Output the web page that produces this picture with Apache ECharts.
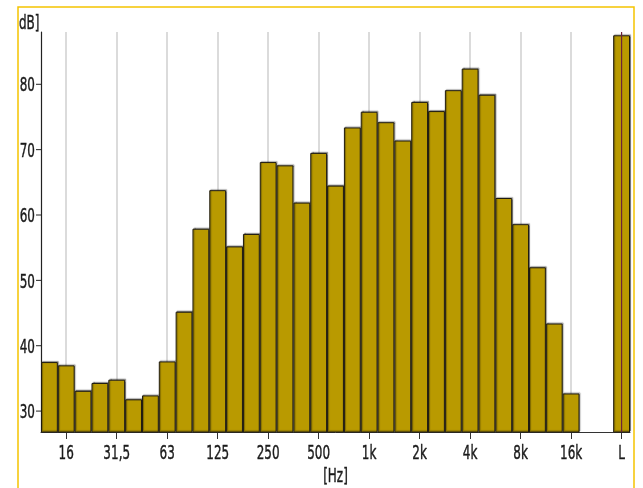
<!DOCTYPE html>
<html>
<head>
<meta charset="utf-8">
<script src="https://cdn.jsdelivr.net/npm/echarts@6/dist/echarts.min.js"></script>
<style>
html,body{margin:0;padding:0;background:#fff;}
#chart{width:643px;height:488px;}
</style>
</head>
<body>
<div id="chart"></div>
<script>
// Third-octave band centre frequencies (+ two empty slots + overall L)
var categories = ['12,5','16','20','25','31,5','40','50','63','80','100','125','160','200','250','315','400','500','630','800','1k','1,25k','1,6k','2k','2,5k','3,15k','4k','5k','6,3k','8k','10k','12,5k','16k','20k','25k','L'];
// Band levels in dB (null = empty slot)
var levels = [37.5,37.0,33.1,34.3,34.8,31.8,32.4,37.6,45.2,57.9,63.8,55.2,57.1,68.1,67.6,61.9,69.5,64.5,73.4,75.8,74.2,71.4,77.3,75.9,79.1,82.4,78.4,62.6,58.6,52.0,43.4,32.7,null,null,87.5];
// Labelled ticks on the frequency axis
var tickLabels = ['16','31,5','63','125','250','500','1k','2k','4k','8k','16k','L'];
// Labelled ticks on the level axis
var yTicks = [30,40,50,60,70,80];
var yMin = 26.8, yMax = 88;

var FONT = "'DejaVu Sans','Liberation Sans',sans-serif";
var FS = 20, SX = 0.6, TXT = '#1a1a1a';
var chart = echarts.init(document.getElementById('chart'), null, {renderer:'canvas'});
var showTick = function(idx){ return tickLabels.indexOf(categories[idx]) >= 0; };
var showGrid = function(idx){ return categories[idx] !== 'L' && tickLabels.indexOf(categories[idx]) >= 0; };

chart.setOption({
  animation:false,
  backgroundColor:'#ffffff',
  grid:{left:41, top:32, right:13, bottom:56, containLabel:false},
  xAxis:{
    type:'category',
    data:categories,
    boundaryGap:true,
    axisLine:{show:true, lineStyle:{color:'#333', width:1}},
    axisTick:{show:true, interval:showTick, alignWithLabel:true, length:7, lineStyle:{color:'#333', width:1}},
    axisLabel:{show:false},
    splitLine:{show:true, interval:showGrid, alignWithLabel:true, lineStyle:{color:'#cfcfcf', width:1.5}}
  },
  yAxis:{
    type:'value',
    min:yMin,
    max:yMax,
    splitNumber:6,
    axisLine:{show:true, lineStyle:{color:'#222', width:1.2}},
    axisTick:{show:false},
    axisLabel:{show:false},
    splitLine:{show:false}
  },
  series:[{
    type:'bar',
    data:levels,
    barCategoryGap:'0%',
    barGap:'0%',
    z:3,
    itemStyle:{
      color:'#b99a00',
      borderColor:'#1e1a10',
      borderWidth:1,
      shadowColor:'rgba(0,0,0,0.35)',
      shadowOffsetX:1,
      shadowOffsetY:-1,
      shadowBlur:1
    }
  }]
});

// Text labels and marks placed through the chart's own scales
function txt(x, y, s, align, vAlign){
  return {
    type:'text', x:x, y:y, scaleX:SX, scaleY:1, z:100, silent:true,
    style:{text:s, fontFamily:FONT, fontSize:FS, fill:TXT, stroke:TXT, lineWidth:0.45, align:align, verticalAlign:vAlign}
  };
}
function px(c){ return chart.convertToPixel({xAxisIndex:0}, c); }
function py(v){ return chart.convertToPixel({yAxisIndex:0}, v); }
var axisY = py(yMin), topY = py(yMax);
var band = px(categories[1]) - px(categories[0]);
var axisX = px(categories[0]) - band / 2;
var rightX = px(categories[categories.length-1]) + band / 2;
var g = [{
  type:'rect', z:100, silent:true,
  shape:{x:18, y:7, width:616, height:520},
  style:{fill:'none', stroke:'#f5c400', lineWidth:1.5}
}];
// overall level marker line through the L bar
g.push({type:'line', z:50, silent:true, shape:{x1:px('L'), y1:topY, x2:px('L'), y2:axisY}, style:{stroke:'#6e2436', lineWidth:1.2}});
tickLabels.forEach(function(t){
  g.push(txt(px(t), axisY + 22, t, 'center', 'middle'));
});
yTicks.forEach(function(v){
  var y = py(v);
  g.push({type:'line', z:50, silent:true, shape:{x1:axisX - 5, y1:y, x2:axisX, y2:y}, style:{stroke:'#222', lineWidth:1}});
  g.push(txt(axisX - 6, y + 2, String(v), 'right', 'middle'));
});
g.push(txt((axisX + rightX) / 2, axisY + 45, '[Hz]', 'center', 'middle'));
g.push(txt(19, topY - 8, 'dB]', 'left', 'middle'));
chart.setOption({graphic:g});
</script>
</body>
</html>
